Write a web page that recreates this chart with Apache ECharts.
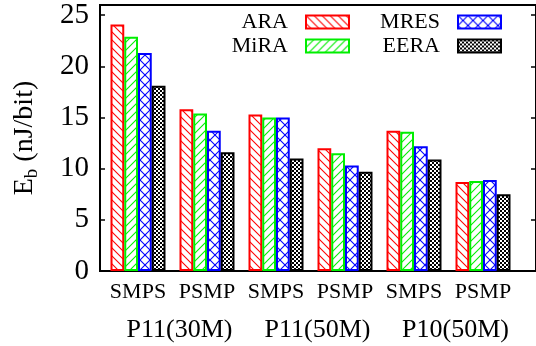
<!DOCTYPE html>
<html><head><meta charset="utf-8">
<script src="https://cdn.jsdelivr.net/npm/echarts@6/dist/echarts.min.js"></script>
<style>html,body{margin:0;padding:0;background:#fff}#c{width:536px;height:346px}</style>
</head><body><div id="c"></div>
<script>
const categories = ['SMPS','PSMP','SMPS','PSMP','SMPS','PSMP'];
const groups = ['P11(30M)','P11(50M)','P10(50M)'];
const ARA  = [24.1, 15.8, 15.3, 12.0, 13.7, 8.7];
const MiRA = [22.9, 15.4, 15.0, 11.5, 13.6, 8.8];
const MRES = [21.3, 13.7, 15.0, 10.3, 12.2, 8.9];
const EERA = [18.1, 11.6, 11.0, 9.7, 10.9, 7.5];
const yMin = 0, yMax = 26, yStep = 5;

const FONT = '"Liberation Serif", "Times New Roman", serif';

function pat(kind, color) {
  const c = document.createElement('canvas');
  const s = kind === 'cross' ? 10 : (kind === 'checker' ? 4 : 8);
  c.width = s; c.height = s;
  const g = c.getContext('2d');
  g.fillStyle = '#fff'; g.fillRect(0, 0, s, s);
  g.strokeStyle = color; g.lineWidth = 1.1;
  function line(x1, y1, x2, y2) { g.beginPath(); g.moveTo(x1, y1); g.lineTo(x2, y2); g.stroke(); }
  if (kind === 'back' || kind === 'cross') {
    line(-2, -2, s + 2, s + 2); line(-2, s - 2, 2, s + 2); line(s - 2, -2, s + 2, 2);
  }
  if (kind === 'fwd' || kind === 'cross') {
    line(-2, s + 2, s + 2, -2); line(-2, 2, 2, -2); line(s - 2, s + 2, s + 2, s - 2);
  }
  if (kind === 'checker') {
    g.fillStyle = '#000'; g.fillRect(0, 0, s, s);
    g.fillStyle = '#fff'; g.fillRect(0, 0, 2, 2); g.fillRect(2, 2, 2, 2);
  }
  return { image: c, repeat: 'repeat' };
}

function mk(name, data, color, kind) {
  return {
    name, type: 'bar', xAxisIndex: 1, yAxisIndex: 2, data,
    barWidth: 13.75, barGap: '0%',
    itemStyle: { color: pat(kind, color), borderColor: color, borderWidth: 2 },
    emphasis: { disabled: true }
  };
}

const legendBase = {
  orient: 'vertical', align: 'right', icon: 'rect', padding: 0,
  itemWidth: 43, itemHeight: 13, itemGap: 2, selectedMode: false,
  textStyle: { fontFamily: FONT, fontSize: 22, color: '#000', padding: [0, 13, 0, 0] }
};

const chart = echarts.init(document.getElementById('c'), null, { renderer: 'canvas' });
chart.setOption({
  animation: false,
  backgroundColor: '#fff',
  grid: [
    { left: 83, top: 5, width: 456, height: 266, show: true, borderColor: '#000', borderWidth: 2, backgroundColor: 'transparent' },
    { left: 103.5, top: 5, width: 414, height: 266 },
    { left: 110.5, top: 5, width: 414, height: 266 }
  ],
  legend: [
    Object.assign({}, legendBase, { data: ['ARA', 'MiRA'], right: 186, top: 11 }),
    Object.assign({}, legendBase, { data: ['MRES', 'EERA'], right: 34, top: 11 })
  ],
  xAxis: [
    { gridIndex: 0, type: 'category', data: [''], show: false },
    { gridIndex: 1, type: 'category', data: categories,
      axisLine: { show: false }, axisTick: { show: false },
      axisLabel: { fontFamily: FONT, fontSize: 22, color: '#000', margin: 10, interval: 0 } },
    { gridIndex: 2, type: 'category', data: groups,
      axisLine: { show: false }, axisTick: { show: false },
      axisLabel: { fontFamily: FONT, fontSize: 26, color: '#000', margin: 46, interval: 0 } }
  ],
  yAxis: [
    { gridIndex: 0, type: 'value', min: yMin, max: yMax, interval: yStep, position: 'left',
      axisLine: { show: true, lineStyle: { color: '#000', width: 2 } },
      axisTick: { show: true, inside: true, length: 5, lineStyle: { color: '#000', width: 1.5 } },
      splitLine: { show: false },
      axisLabel: { fontFamily: FONT, fontSize: 29, color: '#000', margin: 11, showMaxLabel: false },
      name: 'E{s|b} (nJ/bit)', nameLocation: 'middle', nameRotate: 90, nameGap: 58,
      nameTextStyle: { fontFamily: FONT, fontSize: 28, color: '#000', lineHeight: 34,
        rich: { s: { fontFamily: FONT, fontSize: 19, color: '#000', lineHeight: 16, verticalAlign: 'bottom' } } } },
    { gridIndex: 0, type: 'value', min: yMin, max: yMax, interval: yStep, position: 'right',
      axisLine: { show: true, lineStyle: { color: '#000', width: 2 } },
      axisTick: { show: true, inside: true, length: 5, lineStyle: { color: '#000', width: 1.5 } },
      splitLine: { show: false }, axisLabel: { show: false } },
    { gridIndex: 1, type: 'value', min: yMin, max: yMax, show: false },
    { gridIndex: 2, type: 'value', min: yMin, max: yMax, show: false }
  ],
  series: [
    mk('ARA', ARA, '#ff0000', 'back'),
    mk('MiRA', MiRA, '#00ee00', 'fwd'),
    mk('MRES', MRES, '#0000ff', 'cross'),
    mk('EERA', EERA, '#000000', 'checker')
  ]
});
</script></body></html>
